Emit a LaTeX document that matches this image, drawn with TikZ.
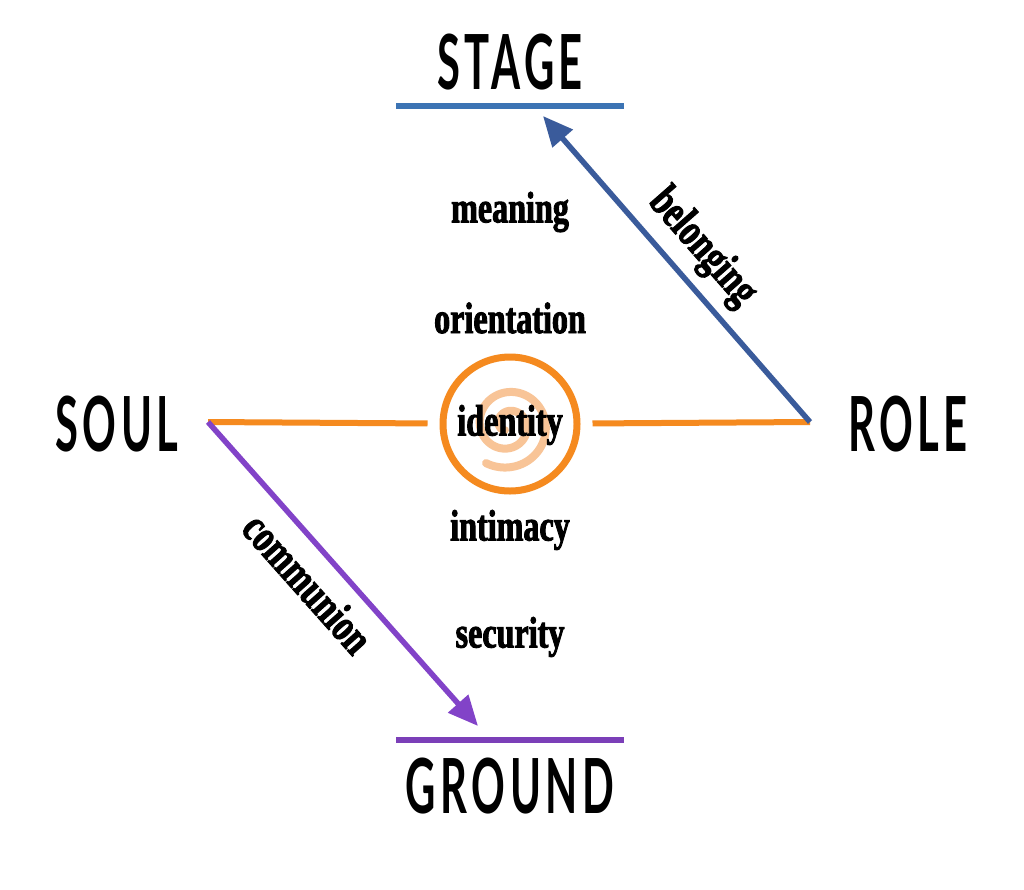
\documentclass[tikz,border=0pt]{standalone}
\usepackage{fontspec}
\usetikzlibrary{arrows.meta}
\newfontfamily\labelfont[FakeStretch=0.73,BoldFeatures={FakeStretch=0.73,FakeBold=2}]{Liberation Serif}
\newfontfamily\titlefont[FakeStretch=0.55,LetterSpace=6,BoldFeatures={FakeStretch=0.55,LetterSpace=6}]{Lato}
\definecolor{stageblue}{HTML}{3C74B4}
\definecolor{arrowblue}{HTML}{3A5B9B}
\definecolor{idorange}{HTML}{F58A1F}
\definecolor{spiralorange}{HTML}{F8C497}
\definecolor{groundpurple}{HTML}{7B3FB8}
\definecolor{arrowpurple}{HTML}{8243C8}
\begin{document}
\begin{tikzpicture}[x=1pt,y=-1pt,
  title/.style={font=\titlefont\bfseries\fontsize{76}{76}\selectfont, inner sep=0pt, text=black},
  lbl/.style={font=\labelfont\bfseries\fontsize{44}{44}\selectfont, inner sep=0pt, text=black},
  rlbl/.style={font=\labelfont\bfseries\fontsize{46}{46}\selectfont, inner sep=0pt, text=black},
  bar/.style={line width=6pt},
  conn/.style={line width=5.5pt, -{Triangle[length=30pt,width=26pt]}},
  orangeline/.style={idorange, line width=6pt, shorten >=12pt},
]
\useasboundingbox (0,0) rectangle (1024,889);
\fill[white] (0,0) rectangle (1024,889);

% titles
\node[title] (stage) at (510,62) {STAGE};
\node[title] (ground) at (510,786) {GROUND};
\node[title] (soul) at (117,424) {SOUL};
\node[title] (role) at (908,424) {ROLE};

% bars
\coordinate (stageL) at (396,106);
\coordinate (stageR) at (624,106);
\coordinate (groundL) at (396,740);
\coordinate (groundR) at (624,740);
\draw[bar, stageblue] (stageL) -- (stageR);
\draw[bar, groundpurple] (groundL) -- (groundR);

% hub points
\coordinate (soulpt) at (208,422);
\coordinate (rolept) at (810,422);
\coordinate (stagetip) at (543,116);
\coordinate (groundtip) at (478,726);

% spiral
\draw[spiralorange, line width=8pt, line cap=round]
  plot[domain=0:720, samples=300, smooth]
  ({508 + (6 + \x/360*19)*cos(\x+120)}, {425 + (6 + \x/360*19)*sin(\x+120)});

% identity circle
\node[circle, draw=idorange, line width=7pt, minimum size=134pt, inner sep=0pt] (ident) at (510,424) {};
\node[lbl] (identity) at (510,425) {identity};

% orange connectors
\draw[orangeline] (soulpt) -- (ident);
\draw[orangeline] (rolept) -- (ident);

% arrows
\draw[conn, arrowblue] (rolept) -- (stagetip);
\draw[conn, arrowpurple] (soulpt) -- (groundtip);

% labels
\node[lbl] (meaning) at (510,212) {meaning};
\node[lbl] (orientation) at (510,318) {orientation};
\node[lbl] (intimacy) at (510,530) {intimacy};
\node[lbl] (security) at (510,637) {security};
\node[rlbl, rotate=-48.7] (belonging) at (702,248) {belonging};
\node[rlbl, rotate=-48.3] (communion) at (308,583) {communion};
\end{tikzpicture}
\end{document}
